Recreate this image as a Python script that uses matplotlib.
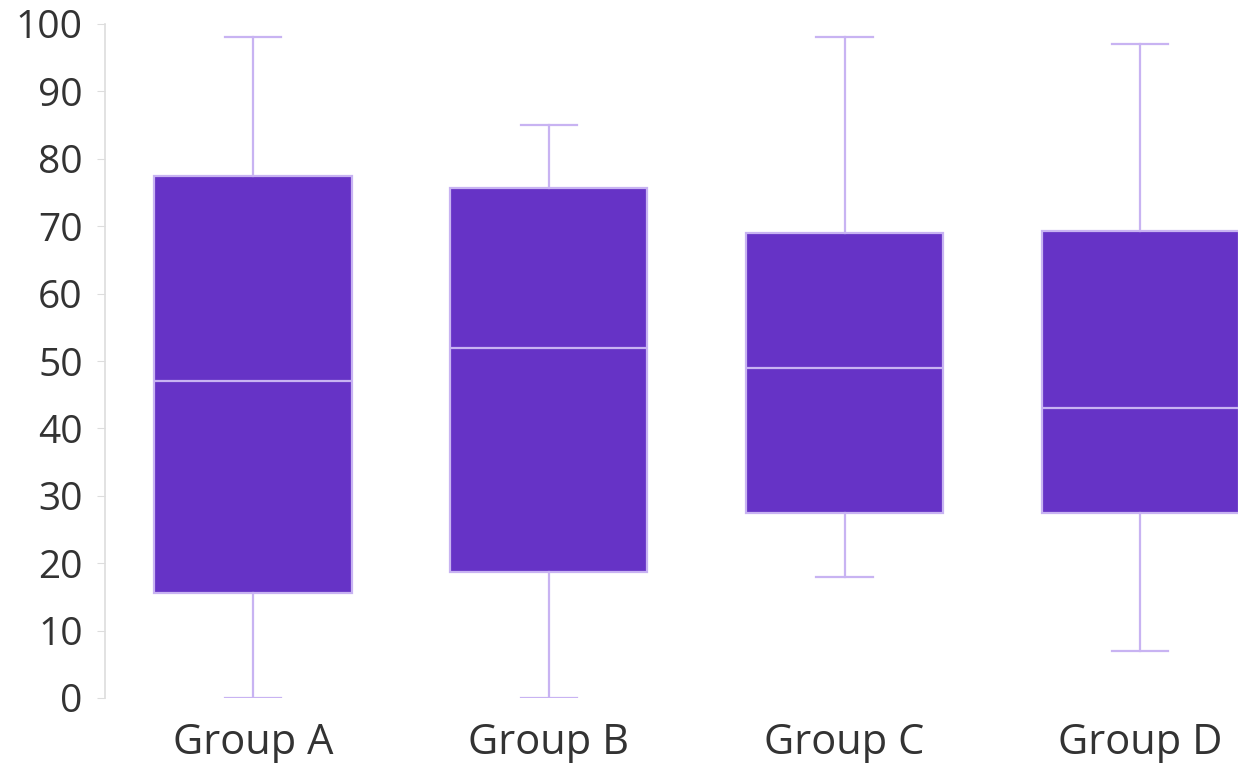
import matplotlib
matplotlib.use("Agg")
import matplotlib.pyplot as plt

groups = ["Group A", "Group B", "Group C", "Group D"]
whisker_low = [0, 0, 18, 7]
q1 = [15.6, 18.7, 27.4, 27.4]
median = [47, 52, 48.9, 43]
q3 = [77.4, 75.6, 69, 69.3]
whisker_high = [98, 85, 98, 97]
yticks = list(range(0, 101, 10))

box_fill = "#6633C6"
light = "#C8B3F2"
text_color = "#333333"

plt.rcParams["font.family"] = ["Open Sans", "DejaVu Sans"]

fig = plt.figure(figsize=(12.38, 7.63), dpi=100)
ax = fig.add_axes([105 / 1238, 65 / 763, 1 - 105 / 1238, 674 / 763])

stats = [
    {"label": g, "whislo": lo, "q1": a, "med": m, "q3": b, "whishi": hi, "fliers": []}
    for g, lo, a, m, b, hi in zip(groups, whisker_low, q1, median, q3, whisker_high)
]
ax.bxp(stats, positions=range(len(groups)), widths=0.667, capwidths=0.19,
       patch_artist=True, showfliers=False,
       boxprops=dict(facecolor=box_fill, edgecolor=light, linewidth=1.6),
       medianprops=dict(color=light, linewidth=1.6),
       whiskerprops=dict(color=light, linewidth=1.6),
       capprops=dict(color=light, linewidth=1.6))

ax.set_xlim(-0.5, 3.33)
ax.set_ylim(0, 100)
ax.set_yticks(yticks)
ax.set_xticks(range(len(groups)))
ax.set_xticklabels(groups)

for s in ["top", "right", "bottom"]:
    ax.spines[s].set_visible(False)
ax.spines["left"].set_color("#dddddd")
ax.spines["left"].set_linewidth(1.2)
ax.tick_params(axis="y", colors="#dddddd", labelcolor=text_color, labelsize=28, length=6, pad=10)
ax.tick_params(axis="x", length=0, labelcolor=text_color, labelsize=30, pad=17)

fig.savefig("out.png", dpi=100)
